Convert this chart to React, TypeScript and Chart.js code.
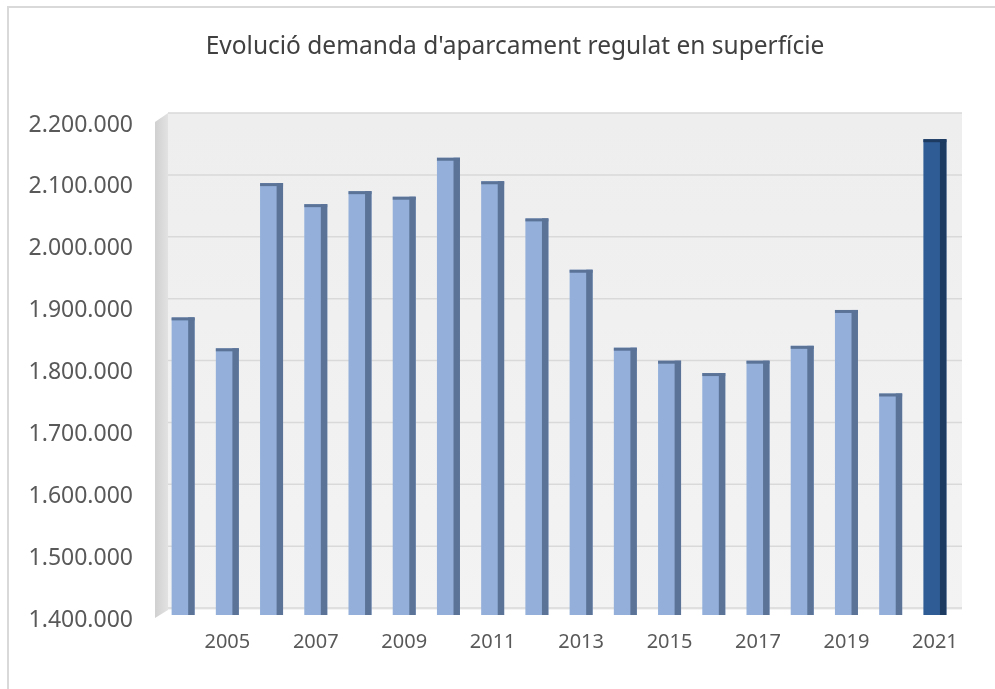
import React, { useEffect, useRef } from "react";
import { Chart, registerables } from "chart.js";

Chart.register(...registerables);

const years = ["2004","2005","2006","2007","2008","2009","2010","2011","2012","2013","2014","2015","2016","2017","2018","2019","2020","2021"];
const demand = [1881000,1831000,2098000,2064000,2085000,2076000,2139000,2101000,2041000,1958000,1832000,1811000,1791000,1811000,1835000,1893000,1758000,2169000];
const yMin = 1400000;
const yMax = 2200000;
const yStep = 100000;
const title = "Evolució demanda d'aparcament regulat en superfície";

const frontColors = demand.map((_, i) => (i === demand.length - 1 ? "#2F5C94" : "#93AFDA"));
const sideColors = demand.map((_, i) => (i === demand.length - 1 ? "#1D3A60" : "#5B7397"));

const fmt = (v: number) => Math.round(v).toString().replace(/\B(?=(\d{3})+(?!\d))/g, ".");

const decor = {
  id: "decor",
  beforeDraw(chart: any) {
    const { ctx, chartArea } = chart;
    ctx.save();
    ctx.fillStyle = "#FFFFFF";
    ctx.fillRect(0, 0, chart.width, chart.height);
    ctx.strokeStyle = "#D9D9D9";
    ctx.lineWidth = 2;
    ctx.strokeRect(8, 7, chart.width + 20, chart.height + 20);
    // title
    ctx.fillStyle = "#404040";
    ctx.font = "24.5px 'Noto Sans'";
    ctx.textAlign = "center";
    ctx.textBaseline = "middle";
    ctx.fillText(title, 515, 47);
    // back wall
    const g = ctx.createLinearGradient(0, chartArea.top, 0, chartArea.bottom);
    g.addColorStop(0, "#EEEEEE");
    g.addColorStop(1, "#F3F3F3");
    ctx.fillStyle = g;
    ctx.fillRect(chartArea.left + 7, chartArea.top - 7, chartArea.right - chartArea.left - 2, chartArea.bottom - chartArea.top + 2);
    // left wall
    const lg = ctx.createLinearGradient(chartArea.left - 6, 0, chartArea.left + 7, 0);
    lg.addColorStop(0, "#D0D0D0");
    lg.addColorStop(1, "#E2E2E2");
    ctx.fillStyle = lg;
    ctx.beginPath();
    ctx.moveTo(chartArea.left - 6, chartArea.top + 2);
    ctx.lineTo(chartArea.left + 7, chartArea.top - 7);
    ctx.lineTo(chartArea.left + 7, chartArea.bottom - 5);
    ctx.lineTo(chartArea.left - 6, chartArea.bottom + 3);
    ctx.closePath();
    ctx.fill();
    // gridlines on the back wall
    const y = chart.scales.y;
    ctx.strokeStyle = "#D9D9D9";
    ctx.lineWidth = 1.5;
    y.ticks.forEach((t: any) => {
      const py = y.getPixelForValue(t.value) - 7;
      ctx.beginPath();
      ctx.moveTo(chartArea.left + 7, py);
      ctx.lineTo(chartArea.right + 5, py);
      ctx.stroke();
    });
    ctx.restore();
  },
  afterDatasetsDraw(chart: any) {
    const { ctx, chartArea } = chart;
    const meta = chart.getDatasetMeta(0);
    ctx.save();
    meta.data.forEach((bar: any, i: number) => {
      const w = bar.width;
      const left = bar.x - w / 2;
      const right = bar.x + w / 2;
      const sideW = w * 0.28;
      const bottom = Math.min(bar.base, chartArea.bottom);
      ctx.fillStyle = sideColors[i];
      ctx.fillRect(right - sideW, bar.y, sideW, bottom - bar.y);
      ctx.fillRect(left, bar.y, w, 3);
    });
    ctx.restore();
  },
};

export default function App() {
  const ref = useRef<HTMLCanvasElement>(null);
  useEffect(() => {
    document.body.style.margin = "0";
    const chart = new Chart(ref.current!, {
      type: "bar",
      data: {
        labels: years,
        datasets: [
          {
            data: demand,
            backgroundColor: frontColors,
            borderWidth: 0,
            categoryPercentage: 1,
            barPercentage: 0.52,
          },
        ],
      },
      plugins: [decor],
      options: {
        animation: false,
        responsive: false,
        layout: { padding: { left: 0, right: 38, top: 120, bottom: 0 } },
        plugins: {
          legend: { display: false },
          tooltip: { enabled: false },
          title: { display: false },
        },
        scales: {
          x: {
            grid: { display: false, drawTicks: false },
            border: { display: false },
            ticks: {
              autoSkip: false,
              maxRotation: 0,
              padding: 15,
              color: "#595959",
              font: { family: "'Noto Sans'", size: 20 },
              callback: (_v: any, i: number) => (Number(years[i]) % 2 === 1 ? years[i] : ""),
            },
            afterFit: (s: any) => { s.height = 74; },
          },
          y: {
            min: yMin,
            max: yMax,
            grid: { display: false, drawTicks: false },
            border: { display: false },
            ticks: {
              stepSize: yStep,
              padding: 28,
              labelOffset: 5,
              color: "#595959",
              font: { family: "'Noto Sans'", size: 23 },
              callback: (v: any) => fmt(Number(v)),
            },
            afterFit: (s: any) => { s.width = 161; },
          },
        },
      },
    });
    return () => chart.destroy();
  }, []);
  return <canvas ref={ref} width={995} height={689} style={{ display: "block" }} />;
}
